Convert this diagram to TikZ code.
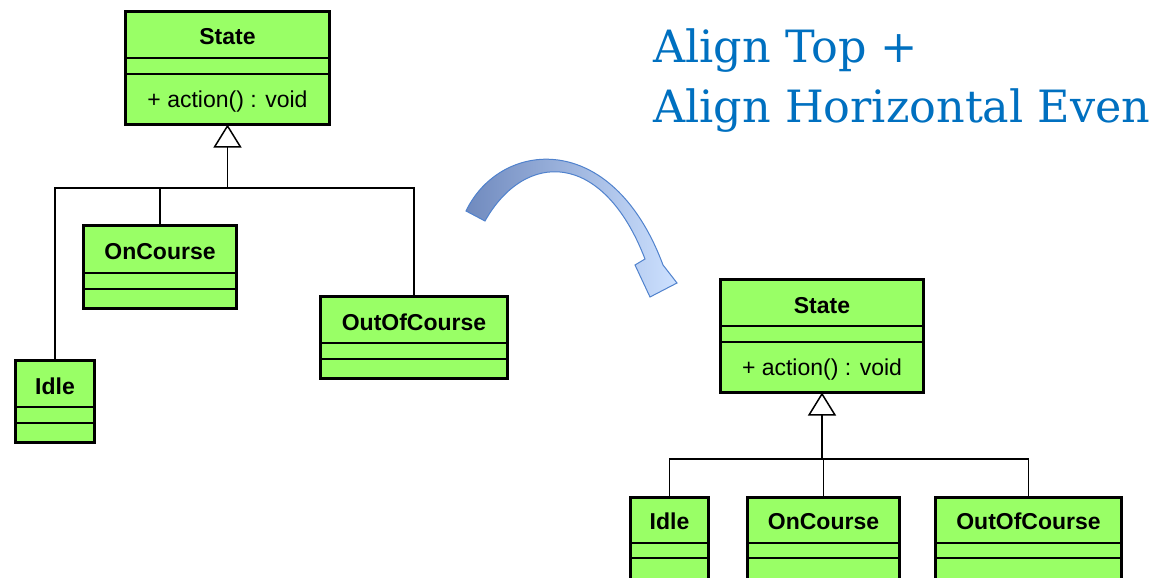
\documentclass[tikz,border=0pt]{standalone}
\usepackage{fontspec}
\newfontfamily\boxfont{Liberation Sans}
\newfontfamily\titlefont{DejaVu Serif}
\usetikzlibrary{arrows.meta}
\definecolor{umlgreen}{RGB}{153,255,102}
\definecolor{titleblue}{RGB}{0,112,192}
\definecolor{arrowdark}{RGB}{112,138,190}
\definecolor{arrowlight}{RGB}{205,225,255}
\definecolor{arrowedge}{RGB}{80,130,205}
\tikzset{
  classbox/.style={draw=black, fill=umlgreen, line width=3pt, inner sep=0pt, outer sep=0pt},
  compline/.style={line width=1.5pt},
  conn/.style={line width=1.5pt},
  hdr/.style={font=\boxfont\bfseries\fontsize{23}{27}\selectfont, anchor=base, inner sep=0pt},
  optext/.style={font=\boxfont\fontsize{23}{27}\selectfont, anchor=base, inner sep=0pt},
  titletext/.style={font=\titlefont\fontsize{44.5}{54}\selectfont, text=titleblue, anchor=base west, inner sep=0pt},
  inherit/.style={-{Triangle[open, fill=white, length=23pt, width=28pt]}}
}
\begin{document}
\begin{tikzpicture}[x=1pt,y=-1pt]
\useasboundingbox (0,0) rectangle (1167,578);
\fill[white] (0,0) rectangle (1167,578);

% ---------- left diagram ----------
\node[classbox, minimum width=204pt, minimum height=113pt] (sL) at (227.5,68) {};
\draw[compline] (sL.west |- 0,58) -- (sL.east |- 0,58);
\draw[compline] (sL.west |- 0,74) -- (sL.east |- 0,74);
\node[hdr] (sLt) at (227.5,45) {State};
\node[optext] (sLo) at (227.5,107) {+ action() : void};

\node[classbox, minimum width=153pt, minimum height=83pt] (cL) at (160,267) {};
\draw[compline] (cL.west |- 0,273) -- (cL.east |- 0,273);
\draw[compline] (cL.west |- 0,289) -- (cL.east |- 0,289);
\node[hdr] (cLt) at (160,259) {OnCourse};

\node[classbox, minimum width=187pt, minimum height=82pt] (oL) at (414,337.5) {};
\draw[compline] (oL.west |- 0,343) -- (oL.east |- 0,343);
\draw[compline] (oL.west |- 0,359) -- (oL.east |- 0,359);
\node[hdr] (oLt) at (414,330) {OutOfCourse};

\node[classbox, minimum width=79pt, minimum height=82pt] (iL) at (55,401.5) {};
\draw[compline] (iL.west |- 0,407) -- (iL.east |- 0,407);
\draw[compline] (iL.west |- 0,423) -- (iL.east |- 0,423);
\node[hdr] (iLt) at (55,394) {Idle};

\coordinate (jL) at (sL.south |- 0,188);
\draw[conn] (iL.north) |- (jL) -| (oL.north);
\draw[conn] (cL.north) -- (cL.north |- jL);
\draw[conn, inherit] (jL) -- (sL.south);

% ---------- curved arrow ----------
\path[draw=arrowedge, line width=1pt, left color=arrowdark, right color=arrowlight]
  (466,211) .. controls (500,140) and (612,128) .. (663,265)
  -- (677,283) -- (650,297) -- (635,265) -- (645,259)
  .. controls (603,150) and (525,150) .. (485,221) -- cycle;

% ---------- title ----------
\node[titletext] (t1) at (653,63) {Align Top +};
\node[titletext] (t2) at (653,122) {Align Horizontal Even};

% ---------- right diagram ----------
\node[classbox, minimum width=203pt, minimum height=113pt] (sR) at (822,336) {};
\draw[compline] (sR.west |- 0,326) -- (sR.east |- 0,326);
\draw[compline] (sR.west |- 0,342) -- (sR.east |- 0,342);
\node[hdr] (sRt) at (822,313) {State};
\node[optext] (sRo) at (822,375) {+ action() : void};

\node[classbox, minimum width=78pt, minimum height=83pt] (iR) at (669.5,539) {};
\draw[compline] (iR.west |- 0,543) -- (iR.east |- 0,543);
\draw[compline] (iR.west |- 0,558) -- (iR.east |- 0,558);
\node[hdr] (iRt) at (669.5,529) {Idle};

\node[classbox, minimum width=152pt, minimum height=83pt] (cR) at (823.5,539) {};
\draw[compline] (cR.west |- 0,543) -- (cR.east |- 0,543);
\draw[compline] (cR.west |- 0,558) -- (cR.east |- 0,558);
\node[hdr] (cRt) at (823.5,529) {OnCourse};

\node[classbox, minimum width=186pt, minimum height=83pt] (oR) at (1028.5,539) {};
\draw[compline] (oR.west |- 0,543) -- (oR.east |- 0,543);
\draw[compline] (oR.west |- 0,558) -- (oR.east |- 0,558);
\node[hdr] (oRt) at (1028.5,529) {OutOfCourse};

\coordinate (jR) at (sR.south |- 0,459);
\draw[conn] (iR.north) |- (jR) -| (oR.north);
\draw[conn] (cR.north) -- (cR.north |- jR);
\draw[conn, inherit] (jR) -- (sR.south);
\end{tikzpicture}
\end{document}
